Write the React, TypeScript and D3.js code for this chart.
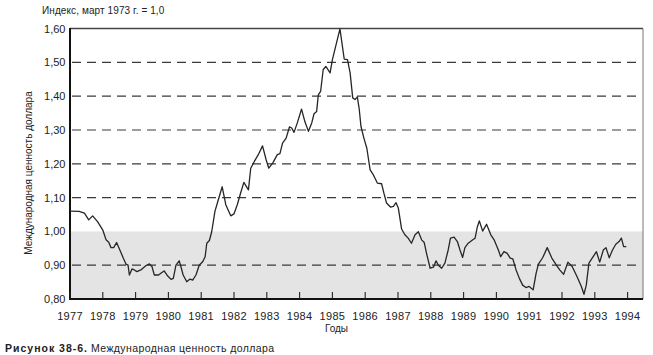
import React from "react";
import * as d3 from "d3";

const years: number[] = [
  1977.0, 1977.28, 1977.44, 1977.57, 1977.69, 1977.84, 1978.0, 1978.1, 1978.18, 1978.25,
  1978.33, 1978.42, 1978.52, 1978.63, 1978.71, 1978.77, 1978.81, 1978.89, 1978.96, 1979.04,
  1979.16, 1979.32, 1979.42, 1979.5, 1979.57, 1979.7, 1979.77, 1979.87, 1979.98, 1980.08,
  1980.15, 1980.23, 1980.33, 1980.38, 1980.45, 1980.56, 1980.66, 1980.74, 1980.84, 1980.94,
  1981.05, 1981.12, 1981.17, 1981.25, 1981.32, 1981.42, 1981.52, 1981.64, 1981.75, 1981.9,
  1982.0, 1982.1, 1982.2, 1982.3, 1982.44, 1982.51, 1982.62, 1982.74, 1982.87, 1982.98,
  1983.06, 1983.18, 1983.32, 1983.4, 1983.48, 1983.59, 1983.69, 1983.76, 1983.83, 1983.93,
  1984.06, 1984.16, 1984.27, 1984.37, 1984.44, 1984.52, 1984.57, 1984.64, 1984.72, 1984.8,
  1984.93, 1985.0, 1985.23, 1985.36, 1985.46, 1985.54, 1985.62, 1985.69, 1985.76, 1985.82,
  1985.87, 1985.96, 1986.05, 1986.15, 1986.25, 1986.37, 1986.5, 1986.57, 1986.65, 1986.77,
  1986.86, 1986.94, 1987.01, 1987.11, 1987.21, 1987.31, 1987.41, 1987.52, 1987.62, 1987.72,
  1987.8, 1987.87, 1987.98, 1988.08, 1988.16, 1988.23, 1988.33, 1988.43, 1988.53, 1988.6,
  1988.71, 1988.81, 1988.89, 1988.97, 1989.04, 1989.14, 1989.28, 1989.35, 1989.42, 1989.48,
  1989.58, 1989.7, 1989.83, 1989.93, 1990.06, 1990.13, 1990.23, 1990.33, 1990.42, 1990.5,
  1990.6, 1990.7, 1990.8, 1990.9, 1991.0, 1991.12, 1991.21, 1991.28, 1991.41, 1991.55,
  1991.69, 1991.83, 1991.93, 1992.05, 1992.18, 1992.31, 1992.46, 1992.59, 1992.67, 1992.74,
  1992.82, 1992.92, 1993.05, 1993.15, 1993.26, 1993.34, 1993.44, 1993.54, 1993.64, 1993.74,
  1993.81, 1993.88, 1993.96,
];

const dollarIndex: number[] = [
  1.06, 1.059, 1.054, 1.034, 1.046, 1.029, 1.004, 0.975, 0.968, 0.952,
  0.952, 0.967, 0.945, 0.92, 0.903, 0.9, 0.871, 0.889, 0.886, 0.881,
  0.886, 0.899, 0.904, 0.896, 0.871, 0.871, 0.876, 0.883, 0.868, 0.858,
  0.861, 0.9, 0.913, 0.896, 0.871, 0.851, 0.859, 0.856, 0.871, 0.9,
  0.911, 0.925, 0.965, 0.973, 0.999, 1.06, 1.093, 1.132, 1.079, 1.046,
  1.052, 1.079, 1.113, 1.145, 1.123, 1.187, 1.207, 1.227, 1.253, 1.212,
  1.187, 1.202, 1.227, 1.23, 1.261, 1.276, 1.309, 1.306, 1.293, 1.321,
  1.362, 1.325, 1.296, 1.321, 1.348, 1.355, 1.404, 1.414, 1.479, 1.488,
  1.469, 1.508, 1.599, 1.51, 1.508, 1.469, 1.395, 1.39, 1.398, 1.36,
  1.311, 1.276, 1.246, 1.182, 1.167, 1.143, 1.141, 1.113, 1.084, 1.072,
  1.074, 1.085, 1.069, 1.007, 0.99, 0.98, 0.965, 0.99, 0.999, 0.975,
  0.967, 0.935, 0.891, 0.894, 0.913, 0.9, 0.891, 0.906, 0.945, 0.98,
  0.983, 0.97, 0.945, 0.923, 0.952, 0.965, 0.975, 0.98, 1.014, 1.031,
  1.001, 1.021, 0.99, 0.975, 0.945, 0.925, 0.94, 0.935, 0.921, 0.919,
  0.886, 0.861, 0.841, 0.834, 0.837, 0.827, 0.876, 0.903, 0.922, 0.952,
  0.921, 0.9, 0.886, 0.873, 0.909, 0.896, 0.866, 0.837, 0.814, 0.841,
  0.906, 0.921, 0.94, 0.909, 0.945, 0.952, 0.922, 0.945, 0.962, 0.97,
  0.98, 0.955, 0.955,
];

const yearTicks: number[] = d3.range(1977, 1995);
const yTicks: number[] = [0.8, 0.9, 1.0, 1.1, 1.2, 1.3, 1.4, 1.5, 1.6];
const dashedLevels: number[] = [0.9, 1.1, 1.2, 1.3, 1.4, 1.5];

const headerText = "Индекс, март 1973 г. = 1,0";
const yTitle = "Международная ценность доллара";
const xTitle = "Годы";
const captionBold = "Рисунок 38-6.";
const captionText = "Международная ценность доллара";

const W = 653;
const H = 355;
const left = 70;
const right = 643;
const top = 28.6;
const bottom = 299;

export default function App() {
  const x = d3.scaleLinear().domain([1977, 1994.5]).range([left, left + 17.5 * 32.8]);
  const y = d3.scaleLinear().domain([0.8, 1.6]).range([bottom, top]);
  const pts: [number, number][] = years.map((yr, i) => [yr, dollarIndex[i]]);
  const line = d3
    .line<[number, number]>()
    .x((d) => x(d[0]))
    .y((d) => y(d[1]));
  const fmt = (v: number) => v.toFixed(2).replace(".", ",");
  const font = "Liberation Sans, Arial, sans-serif";

  return (
    <svg
      width={W}
      height={H}
      style={{ position: "absolute", left: 0, top: 0, background: "#fff" }}
      fontFamily={font}
    >
      <rect x={0} y={0} width={W} height={H} fill="#fff" />
      {/* shaded band 0.80-1.00 */}
      <rect
        x={left}
        y={y(1.0)}
        width={right - left}
        height={y(0.8) - y(1.0)}
        fill="#e4e4e4"
      />
      {/* dashed grid */}
      {dashedLevels.map((v) => (
        <line
          key={v}
          x1={left + 2}
          x2={right - 2}
          y1={y(v)}
          y2={y(v)}
          stroke="#3a3a3a"
          strokeWidth={1.2}
          strokeDasharray="9 6"
        />
      ))}
      {/* frame */}
      <line x1={left} x2={right} y1={top} y2={top} stroke="#444" strokeWidth={1.5} />
      <line x1={right} x2={right} y1={top} y2={bottom} stroke="#777" strokeWidth={1} />
      <line x1={left} x2={left} y1={top - 0.7} y2={bottom + 1} stroke="#111" strokeWidth={2} />
      <line x1={left - 1} x2={right} y1={bottom} y2={bottom} stroke="#111" strokeWidth={2} />
      {/* x ticks */}
      {yearTicks.map((t) => (
        <g key={t}>
          <line x1={x(t)} x2={x(t)} y1={bottom} y2={bottom - 7} stroke="#222" strokeWidth={1.1} />
          <text x={x(t)} y={320} textAnchor="middle" fontSize={11} fill="#222" letterSpacing={0.3}>
            {t}
          </text>
        </g>
      ))}
      {/* y labels */}
      {yTicks.map((v) => (
        <text
          key={v}
          x={65.5}
          y={y(v)}
          dy="0.36em"
          textAnchor="end"
          fontSize={11}
          fill="#222"
        >
          {fmt(v)}
        </text>
      ))}
      {/* series */}
      <path d={line(pts) || ""} fill="none" stroke="#262626" strokeWidth={1.3} strokeLinejoin="round" />
      {/* texts */}
      <text x={42} y={14} fontSize={10} fill="#222" letterSpacing={0.1}>
        {headerText}
      </text>
      <text
        transform={`translate(31.5,173) rotate(-90)`}
        textAnchor="middle"
        fontSize={10}
        fill="#222"
      >
        {yTitle}
      </text>
      <text x={336.5} y={332} textAnchor="middle" fontSize={10} fill="#222">
        {xTitle}
      </text>
      <text x={5} y={352} fontSize={10.5} fill="#222">
        <tspan fontWeight="bold" letterSpacing={1}>{captionBold}</tspan>
        <tspan dx={3} letterSpacing={0.4}>{captionText}</tspan>
      </text>
    </svg>
  );
}
